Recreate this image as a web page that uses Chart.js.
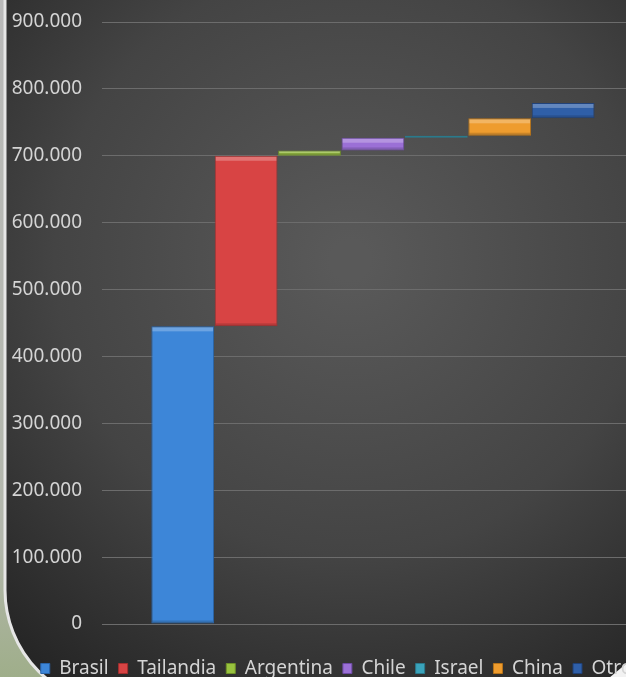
<!DOCTYPE html>
<html>
<head>
<meta charset="utf-8">
<script src="https://cdn.jsdelivr.net/npm/chart.js@4.4.1/dist/chart.umd.min.js"></script>
<style>
  html, body { margin: 0; padding: 0; width: 626px; height: 677px; overflow: hidden; background: #a3b08f; }
  #wrap { position: relative; width: 690px; height: 690px; }
</style>
</head>
<body>
<div id="wrap"><canvas id="chart" width="690" height="690"></canvas></div>
<script>
// waterfall: each country adds on top of the previous ones
var countries = ['Brasil', 'Tailandia', 'Argentina', 'Chile', 'Israel', 'China', 'Otros'];
var amounts = [445000, 255000, 8000, 19000, 3000, 26000, 23000];
var colors = ['#3d86d8', '#d84444', '#98c23e', '#9b70d6', '#3aa3bb', '#ee9c2e', '#2f5fa8'];
var edgeColors = ['#2a64a8', '#a52e2e', '#6f9128', '#6e4aa6', '#2a7a8c', '#b87419', '#1f4178'];
var yTicks = [0, 100000, 200000, 300000, 400000, 500000, 600000, 700000, 800000, 900000];

var running = 0;
var datasets = countries.map(function (name, i) {
  var point = { x: i + 1, y: [running, running + amounts[i]] };
  running += amounts[i];
  return {
    label: name,
    data: [point],
    backgroundColor: colors[i],
    borderColor: edgeColors[i],
    borderWidth: 1,
    borderSkipped: false,
    grouped: false,
    categoryPercentage: 1,
    barPercentage: 0.99
  };
});

function formatThousands(v) {
  return String(v).replace(/\B(?=(\d{3})+(?!\d))/g, '.');
}

function noPadding(axis) {
  axis.paddingLeft = 0;
  axis.paddingRight = 0;
  axis.paddingTop = 0;
  axis.paddingBottom = 0;
}

var backdrop = {
  id: 'backdrop',
  beforeDraw: function (chart) {
    var ctx = chart.ctx;
    var w = chart.width, h = chart.height;
    ctx.save();
    var outer = ctx.createLinearGradient(0, 0, 0, 677);
    outer.addColorStop(0, '#b9b9b9');
    outer.addColorStop(0.8, '#b3b7ac');
    outer.addColorStop(1, '#9fae8a');
    ctx.fillStyle = outer;
    ctx.fillRect(0, 0, w, h);

    // dark panel with a big rounded bottom-left corner
    var r = 115, left = 5, bottom = 705;
    ctx.beginPath();
    ctx.moveTo(left, -10);
    ctx.lineTo(w + 10, -10);
    ctx.lineTo(w + 10, bottom);
    ctx.lineTo(left + r, bottom);
    ctx.arcTo(left, bottom, left, bottom - r, r);
    ctx.closePath();
    var g = ctx.createRadialGradient(350, 260, 20, 350, 260, 520);
    g.addColorStop(0, '#595959');
    g.addColorStop(0.55, '#444444');
    g.addColorStop(1, '#242424');
    ctx.fillStyle = g;
    ctx.fill();
    ctx.lineWidth = 3;
    ctx.strokeStyle = '#e6e6e6';
    ctx.stroke();

    // white corner piece at the bottom right
    ctx.beginPath();
    ctx.moveTo(627, 663);
    ctx.lineTo(627, 678);
    ctx.lineTo(609, 678);
    ctx.closePath();
    ctx.fillStyle = '#f2f2f2';
    ctx.fill();
    ctx.restore();
  },
  afterDatasetsDraw: function (chart) {
    // soft bevel: light top edge, darker bottom edge on every bar
    var ctx = chart.ctx;
    ctx.save();
    chart.data.datasets.forEach(function (ds, i) {
      chart.getDatasetMeta(i).data.forEach(function (bar) {
        var p = bar.getProps(['x', 'y', 'base', 'width'], true);
        var top = Math.min(p.y, p.base), h = Math.abs(p.base - p.y);
        if (h < 4) return;
        var x0 = p.x - p.width / 2;
        ctx.fillStyle = 'rgba(255,255,255,0.25)';
        ctx.fillRect(x0 + 1, top + 1, p.width - 2, Math.min(4, h / 3));
        ctx.fillStyle = 'rgba(0,0,0,0.15)';
        ctx.fillRect(x0 + 1, top + h - 3, p.width - 2, 2);
      });
    });
    ctx.restore();
  }
};

var ctx = document.getElementById('chart').getContext('2d');
window.waterfallChart = new Chart(ctx, {
  type: 'bar',
  data: {
    datasets: datasets
  },
  options: {
    responsive: false,
    animation: false,
    layout: {
      padding: { left: 12, right: 20, top: 22, bottom: 2 }
    },
    scales: {
      x: {
        type: 'linear',
        offset: false,
        min: -0.273,
        max: 8.686,
        grid: { display: false },
        border: { display: false },
        ticks: { display: false },
        afterFit: function (axis) {
          axis.height = 25;
          noPadding(axis);
        }
      },
      y: {
        min: 0,
        max: 900000,
        afterBuildTicks: function (axis) {
          axis.ticks = yTicks.map(function (v) { return { value: v }; });
        },
        afterFit: function (axis) {
          axis.width = 90;
          noPadding(axis);
        },
        grid: {
          color: '#6c6c6c',
          lineWidth: 1,
          drawTicks: false
        },
        border: { display: false },
        ticks: {
          color: '#d4d4d4',
          padding: 20,
          font: { family: 'Noto Sans', size: 19 },
          callback: function (v) { return formatThousands(v); }
        }
      }
    },
    plugins: {
      tooltip: { enabled: false },
      legend: {
        position: 'bottom',
        onClick: null,
        labels: {
          color: '#d4d4d4',
          boxWidth: 9,
          boxHeight: 10,
          padding: 10,
          font: { family: 'Noto Sans', size: 19 }
        }
      }
    }
  },
  plugins: [backdrop]
});
</script>
</body>
</html>
